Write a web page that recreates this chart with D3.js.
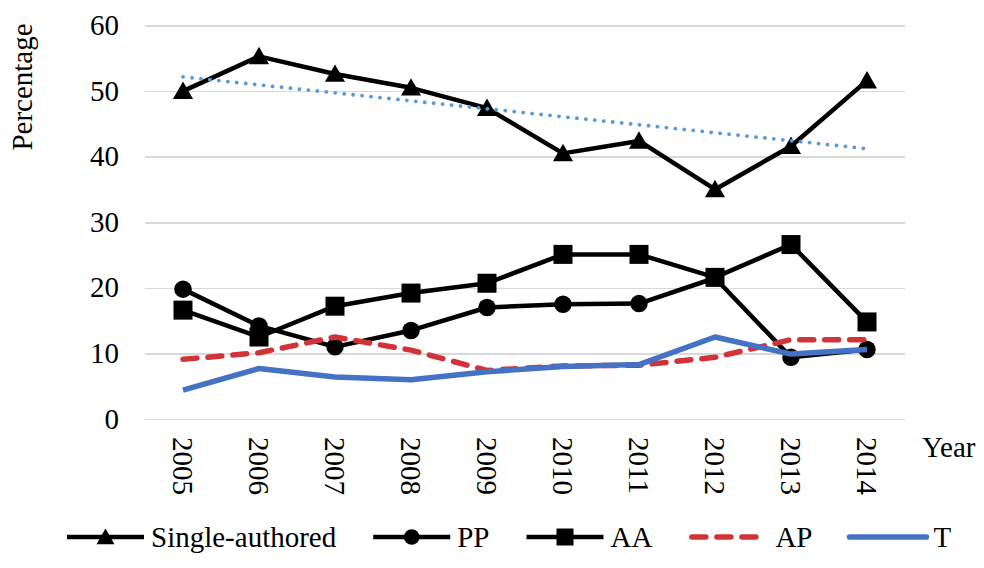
<!DOCTYPE html>
<html>
<head>
<meta charset="utf-8">
<script src="https://d3js.org/d3.v7.min.js"></script>
<style>
    body { margin: 0; background: #fff; }
    svg { display: block; font-family: "Liberation Serif", "Times New Roman", serif; }
    .grid line { stroke: #d9d9d9; stroke-width: 1.5px; shape-rendering: crispEdges; }
    .grid path { stroke-width: 0; }
    .lbl { font-size: 29px; fill: #000; font-family: "Liberation Serif", "Times New Roman", serif; }
</style>
</head>
<body>
<svg width="984" height="568"></svg>
<script>
    // data
    const years = ["2005", "2006", "2007", "2008", "2009", "2010", "2011", "2012", "2013", "2014"];
    const singleAuthored = [50.0, 55.3, 52.6, 50.5, 47.4, 40.5, 42.4, 35.0, 41.6, 51.6];
    const pp = [19.8, 14.2, 11.0, 13.5, 17.0, 17.5, 17.6, 21.5, 9.4, 10.6];
    const aa = [16.6, 12.5, 17.2, 19.2, 20.7, 25.1, 25.1, 21.6, 26.6, 14.8];
    const ap = [9.1, 10.1, 12.5, 10.5, 7.4, 8.1, 8.2, 9.4, 12.1, 12.1];
    const t = [4.4, 7.7, 6.4, 6.0, 7.2, 8.0, 8.3, 12.5, 9.9, 10.6];
    const yTicks = [0, 10, 20, 30, 40, 50, 60];

    const plot = {left: 145, right: 905, top: 25.5, bottom: 419};

    const svg = d3.select("svg");

    const x = d3.scaleBand().domain(years).range([plot.left, plot.right]);
    const cx = d => x(d) + x.bandwidth() / 2;
    const y = d3.scaleLinear().domain([0, 60]).range([plot.bottom, plot.top]);

    // gridlines
    svg.append("g")
        .attr("class", "grid")
        .attr("transform", `translate(${plot.left},0)`)
        .call(d3.axisLeft(y).tickValues(yTicks).tickSize(-(plot.right - plot.left)).tickFormat(""));

    // y tick labels
    svg.selectAll(".ytick")
        .data(yTicks)
        .enter().append("text")
        .attr("class", "lbl ytick")
        .attr("x", plot.left - 26)
        .attr("y", d => y(d))
        .attr("dy", "0.33em")
        .attr("text-anchor", "end")
        .text(d => d);

    // x tick labels, rotated
    svg.selectAll(".xtick")
        .data(years)
        .enter().append("text")
        .attr("class", "lbl xtick")
        .attr("transform", d => `translate(${cx(d)},${plot.bottom}) rotate(90)`)
        .attr("x", 18)
        .attr("dy", "0.33em")
        .text(d => d);

    svg.append("text")
        .attr("class", "lbl")
        .attr("x", 922)
        .attr("y", 457)
        .text("Year");

    svg.append("text")
        .attr("class", "lbl")
        .attr("transform", "translate(32,87) rotate(-90)")
        .attr("text-anchor", "middle")
        .text("Percentage");

    const series = [
        {name: "Single-authored", values: singleAuthored, color: "#000", width: 4.5, dash: null, symbol: d3.symbolTriangle, size: 175},
        {name: "PP", values: pp, color: "#000", width: 4.5, dash: null, symbol: d3.symbolCircle, size: 240},
        {name: "AA", values: aa, color: "#000", width: 4.5, dash: null, symbol: d3.symbolSquare, size: 361},
        {name: "AP", values: ap, color: "#d13438", width: 5.5, dash: "14,11", symbol: null},
        {name: "T", values: t, color: "#4472c4", width: 5.5, dash: null, symbol: null}
    ];

    const line = d3.line()
        .x((d, i) => cx(years[i]))
        .y(d => y(d));

    series.forEach(s => {
        svg.append("path")
            .attr("d", line(s.values))
            .attr("fill", "none")
            .attr("stroke", s.color)
            .attr("stroke-width", s.width)
            .attr("stroke-linejoin", "round")
            .attr("stroke-linecap", s.dash ? "round" : "butt")
            .attr("stroke-dasharray", s.dash);

        if (s.symbol) {
            svg.selectAll(null)
                .data(s.values)
                .enter().append("path")
                .attr("d", d3.symbol().type(s.symbol).size(s.size))
                .attr("transform", (d, i) => `translate(${cx(years[i])},${y(d) + (s.symbol === d3.symbolTriangle ? 2 : 0)})`)
                .attr("fill", s.color);
        }
    });

    // linear trendline for single-authored
    const idx = singleAuthored.map((d, i) => i);
    const mx = d3.mean(idx), my = d3.mean(singleAuthored);
    const slope = d3.sum(idx, i => (i - mx) * (singleAuthored[i] - my)) / d3.sum(idx, i => (i - mx) * (i - mx));
    const icpt = my - slope * mx;
    svg.append("line")
        .attr("x1", cx(years[0]))
        .attr("y1", y(icpt))
        .attr("x2", cx(years[years.length - 1]))
        .attr("y2", y(icpt + slope * (years.length - 1)))
        .attr("stroke", "#5b9bd5")
        .attr("stroke-width", 3.8)
        .attr("stroke-linecap", "round")
        .attr("stroke-dasharray", "0.1,8.9");

    // legend
    const legend = svg.append("g");
    let lx = 67;
    const ly = 537;
    series.forEach(s => {
        const g = legend.append("g").attr("transform", `translate(${lx},${ly})`);
        if (s.dash) {
            g.append("line").attr("x1", 2.5).attr("x2", 66.5)
                .attr("stroke", s.color).attr("stroke-width", s.width)
                .attr("stroke-linecap", "round").attr("stroke-dasharray", s.dash);
        } else {
            g.append("line").attr("x1", 0).attr("x2", 77)
                .attr("stroke", s.color).attr("stroke-width", s.width)
                .attr("stroke-linecap", s.symbol ? "butt" : "round");
        }
        if (s.symbol) {
            g.append("path")
                .attr("d", d3.symbol().type(s.symbol).size(s.size * 0.8))
                .attr("transform", `translate(38.5,${s.symbol === d3.symbolTriangle ? 2 : 0})`)
                .attr("fill", s.color);
        }
        const txt = g.append("text")
            .attr("class", "lbl")
            .attr("x", s.dash ? 86 : 84)
            .attr("y", 10)
            .text(s.name);
        lx += (s.dash ? 86 : 84) + txt.node().getComputedTextLength() + 37;
    });
</script>
</body>
</html>
